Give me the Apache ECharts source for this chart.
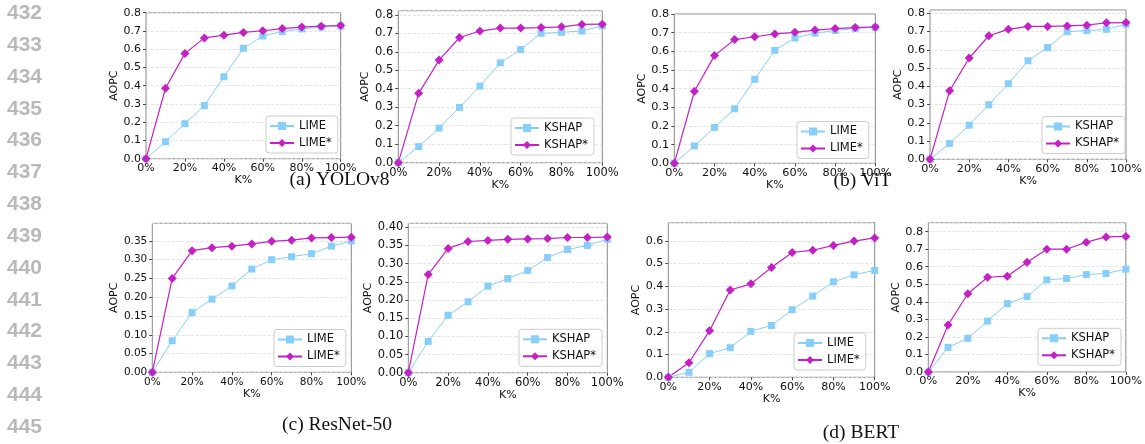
<!DOCTYPE html>
<html>
<head>
<meta charset="utf-8">
<title>AOPC</title>
<script src="https://cdn.jsdelivr.net/npm/echarts@6/dist/echarts.min.js"></script>
<style>
html, body { margin: 0; padding: 0; background: #fff; }
#chart { width: 1145px; height: 444px; }
</style>
</head>
<body>
<div id="chart"></div>
<script>
// K% steps shared by every panel
var kPct = [0, 10, 20, 30, 40, 50, 60, 70, 80, 90, 100];

// (a) YOLOv8
var yoloLime      = [0, 0.093, 0.192, 0.291, 0.449, 0.605, 0.672, 0.697, 0.711, 0.721, 0.727];
var yoloLimeStar  = [0, 0.386, 0.577, 0.662, 0.677, 0.692, 0.701, 0.713, 0.721, 0.726, 0.730];
var yoloKshap     = [0, 0.087, 0.187, 0.299, 0.414, 0.540, 0.612, 0.700, 0.705, 0.712, 0.740];
var yoloKshapStar = [0, 0.375, 0.555, 0.677, 0.712, 0.728, 0.728, 0.731, 0.735, 0.748, 0.749];
// (b) ViT
var vitLime      = [0, 0.093, 0.192, 0.292, 0.450, 0.605, 0.672, 0.697, 0.712, 0.722, 0.728];
var vitLimeStar  = [0, 0.386, 0.577, 0.663, 0.678, 0.693, 0.702, 0.714, 0.722, 0.727, 0.731];
var vitKshap     = [0, 0.087, 0.187, 0.299, 0.414, 0.540, 0.612, 0.700, 0.705, 0.712, 0.740];
var vitKshapStar = [0, 0.375, 0.555, 0.677, 0.712, 0.728, 0.728, 0.731, 0.735, 0.748, 0.749];
// (c) ResNet-50
var resLime      = [0, 0.084, 0.159, 0.195, 0.230, 0.275, 0.300, 0.308, 0.316, 0.336, 0.350];
var resLimeStar  = [0, 0.250, 0.324, 0.332, 0.336, 0.342, 0.349, 0.352, 0.358, 0.359, 0.360];
var resKshap     = [0, 0.086, 0.158, 0.195, 0.238, 0.259, 0.281, 0.317, 0.339, 0.350, 0.367];
var resKshapStar = [0, 0.270, 0.342, 0.361, 0.364, 0.367, 0.368, 0.369, 0.372, 0.372, 0.373];
// (d) BERT
var bertLime      = [0, 0.022, 0.104, 0.130, 0.202, 0.228, 0.297, 0.357, 0.420, 0.451, 0.470];
var bertLimeStar  = [0, 0.064, 0.205, 0.384, 0.411, 0.483, 0.549, 0.559, 0.580, 0.599, 0.613];
var bertKshap     = [0, 0.140, 0.192, 0.290, 0.390, 0.430, 0.525, 0.533, 0.555, 0.562, 0.586];
var bertKshapStar = [0, 0.268, 0.446, 0.540, 0.546, 0.625, 0.700, 0.700, 0.740, 0.770, 0.773];

var limeNames  = ['LIME', 'LIME*'];
var kshapNames = ['KSHAP', 'KSHAP*'];
var lineNumbers = [432, 433, 434, 435, 436, 437, 438, 439, 440, 441, 442, 443, 444, 445];
var captions = ['(a) YOLOv8', '(b) ViT', '(c) ResNet-50', '(d) BERT'];

var FONT = 'DejaVu Sans';
var BLUE = '#87cefa';
var MAGENTA = '#c520c5';

// layout of each panel (pixels)
var panels = [
  {box: [146, 12.7, 194.7, 146],   ymax: 0.8,   step: 0.1,  dec: 1, fs: 11,   names: limeNames,  data: [yoloLime, yoloLimeStar],   leg: [266, 116],    gap: 24},
  {box: [398.3, 10.7, 204, 152],   ymax: 0.822, step: 0.1,  dec: 1, fs: 11.5, names: kshapNames, data: [yoloKshap, yoloKshapStar], leg: [511, 118],    gap: 23},
  {box: [674.3, 14, 201, 149.3],   ymax: 0.8,   step: 0.1,  dec: 1, fs: 11.3, names: limeNames,  data: [vitLime, vitLimeStar],     leg: [797, 121.5],  gap: 23},
  {box: [930, 10, 200, 149.3],     ymax: 0.818, step: 0.1,  dec: 1, fs: 11.2, names: kshapNames, data: [vitKshap, vitKshapStar],   leg: [1042, 116.5], gap: 24},
  {box: [152.3, 223.3, 199, 149],  ymax: 0.397, step: 0.05, dec: 2, fs: 10.5, names: limeNames,  data: [resLime, resLimeStar],     leg: [274, 329.5],  gap: 31},
  {box: [408.3, 223.3, 199, 149.4],ymax: 0.411, step: 0.05, dec: 2, fs: 11.5, names: kshapNames, data: [resKshap, resKshapStar],   leg: [519, 329.3],  gap: 31},
  {box: [668.3, 222.7, 206.4, 154.6], ymax: 0.68, step: 0.1, dec: 1, fs: 11, names: limeNames, data: [bertLime, bertLimeStar],   leg: [794, 333],    gap: 25},
  {box: [928.3, 222.7, 198.4, 149.3], ymax: 0.851, step: 0.1, dec: 1, fs: 11.3, names: kshapNames, data: [bertKshap, bertKshapStar], leg: [1038, 328.3], gap: 24}
];

var grids = [], xAxes = [], yAxes = [], series = [], legends = [], graphics = [];

panels.forEach(function (p, i) {
  grids.push({
    left: p.box[0], top: p.box[1], width: p.box[2], height: p.box[3],
    show: true, borderColor: '#888', borderWidth: 1, backgroundColor: 'transparent'
  });
  xAxes.push({
    gridIndex: i, type: 'value', min: 0, max: 100, interval: 20,
    name: 'K%', nameLocation: 'middle', nameGap: 16,
    nameTextStyle: {fontFamily: FONT, fontSize: 11, color: '#111'},
    axisLine: {show: false},
    axisTick: {show: true, length: 3, lineStyle: {color: '#444'}},
    axisLabel: {fontFamily: FONT, fontSize: p.fs, color: '#111', margin: 4, formatter: '{value}%'},
    splitLine: {show: false}
  });
  var onTick = Math.abs(p.ymax / p.step - Math.round(p.ymax / p.step)) < 1e-6;
  yAxes.push({
    gridIndex: i, type: 'value', min: 0, max: p.ymax, interval: p.step,
    name: 'AOPC', nameLocation: 'middle', nameRotate: 90, nameGap: p.gap,
    nameTextStyle: {fontFamily: FONT, fontSize: 11, color: '#111'},
    axisLine: {show: false},
    axisTick: {show: true, length: 3, lineStyle: {color: '#444'}},
    axisLabel: {
      fontFamily: FONT, fontSize: p.fs, color: '#111', margin: 5,
      showMaxLabel: onTick,
      formatter: function (v) { return v.toFixed(p.dec); }
    },
    splitLine: {show: true, lineStyle: {type: 'dashed', color: '#dcdcdc', width: 0.8}}
  });
  series.push({
    name: p.names[0], type: 'line', xAxisIndex: i, yAxisIndex: i,
    data: kPct.map(function (k, j) { return [k, p.data[0][j]]; }),
    symbol: 'rect', symbolSize: 7,
    lineStyle: {width: 1, color: BLUE}, itemStyle: {color: BLUE},
    animation: false
  });
  series.push({
    name: p.names[1], type: 'line', xAxisIndex: i, yAxisIndex: i,
    data: kPct.map(function (k, j) { return [k, p.data[1][j]]; }),
    symbol: 'diamond', symbolSize: 9,
    lineStyle: {width: 1.2, color: MAGENTA}, itemStyle: {color: MAGENTA},
    animation: false
  });
  legends.push({
    left: p.leg[0], top: p.leg[1], orient: 'vertical', data: p.names,
    padding: [4, 6, 4, 3], itemGap: 5, itemWidth: 24, itemHeight: 10,
    borderColor: '#ccc', borderWidth: 1, borderRadius: 3,
    backgroundColor: 'rgba(255,255,255,0.85)', selectedMode: false,
    textStyle: {fontFamily: FONT, fontSize: 11.5, color: '#111'}
  });
});

// margin line numbers
lineNumbers.forEach(function (n, i) {
  graphics.push({
    type: 'text', left: 7, top: 12.7 + 31.85 * i - 10,
    style: {text: String(n), font: 'bold 21px "Liberation Sans", Arial, sans-serif', fill: '#b9b9b9'}
  });
});

// sub-figure captions
var capPos = [[339.5, 180], [862.5, 181], [337, 425], [861, 433]];
captions.forEach(function (c, i) {
  graphics.push({
    type: 'text', x: capPos[i][0], y: capPos[i][1],
    style: {text: c, font: '19.5px "Liberation Serif", "Times New Roman", serif', fill: '#111',
            textAlign: 'center', textVerticalAlign: 'middle', align: 'center', verticalAlign: 'middle'}
  });
});

var chart = echarts.init(document.getElementById('chart'));
chart.setOption({
  animation: false,
  grid: grids,
  xAxis: xAxes,
  yAxis: yAxes,
  legend: legends,
  series: series,
  graphic: graphics
});
</script>
</body>
</html>
